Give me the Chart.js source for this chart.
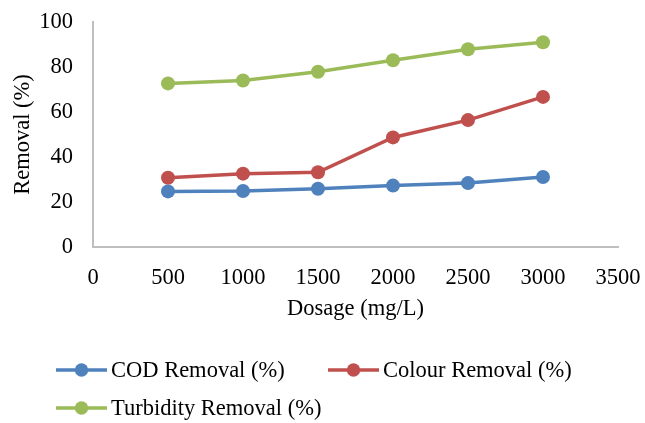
<!DOCTYPE html>
<html>
<head>
<meta charset="utf-8">
<script src="https://cdn.jsdelivr.net/npm/chart.js@4/dist/chart.umd.min.js"></script>
<style>
  html, body { margin: 0; padding: 0; background: #ffffff; }
  #wrap { width: 645px; height: 423px; position: relative; }
</style>
</head>
<body>
<div id="wrap"><canvas id="c" width="645" height="423"></canvas></div>
<script>
// Coagulant dosage (mg/L)
const dosages = [500, 1000, 1500, 2000, 2500, 3000];

// Removal efficiencies (%)
const codRemoval = [24.7, 24.9, 25.9, 27.3, 28.4, 31.1];
const colourRemoval = [30.8, 32.6, 33.2, 48.7, 56.4, 66.7];
const turbidityRemoval = [72.7, 74.0, 77.9, 83.0, 87.9, 91.0];

const seriesNames = ['COD Removal (%)', 'Colour Removal (%)', 'Turbidity Removal (%)'];
const seriesColors = ['#4F81BD', '#C0504D', '#9BBB59'];

const xTicks = [0, 500, 1000, 1500, 2000, 2500, 3000, 3500];
const yTicks = [0, 20, 40, 60, 80, 100];

const FONT = 'Liberation Serif, "Times New Roman", serif';
const FS = 22.5;

function toPoints(ys) {
  return dosages.map((x, i) => ({ x: x, y: ys[i] }));
}

function makeDataset(label, values, color) {
  return {
    label: label,
    data: toPoints(values),
    borderColor: color,
    backgroundColor: color,
    borderWidth: 3.5,
    pointRadius: 7,
    pointHoverRadius: 7,
    pointBorderWidth: 0,
    pointBackgroundColor: color,
    tension: 0
  };
}

// Legend laid out in rows that share a common left edge
const legendPlugin = {
  id: 'rowLegend',
  afterDraw(chart) {
    const ctx = chart.ctx;
    const items = [
      { i: 0, x: 56, y: 370 },
      { i: 1, x: 328, y: 370 },
      { i: 2, x: 56, y: 408 }
    ];
    ctx.save();
    ctx.font = FS + 'px ' + FONT;
    ctx.textBaseline = 'middle';
    ctx.textAlign = 'left';
    items.forEach(it => {
      const ds = chart.data.datasets[it.i];
      const color = ds.borderColor;
      ctx.strokeStyle = color;
      ctx.lineWidth = 3.3;
      ctx.beginPath();
      ctx.moveTo(it.x, it.y);
      ctx.lineTo(it.x + 51, it.y);
      ctx.stroke();
      ctx.fillStyle = color;
      ctx.beginPath();
      ctx.arc(it.x + 25.5, it.y, 6.7, 0, Math.PI * 2);
      ctx.fill();
      ctx.fillStyle = '#000000';
      ctx.fillText(ds.label, it.x + 55, it.y + 1);
    });
    ctx.restore();
  }
};

new Chart(document.getElementById('c'), {
  type: 'line',
  data: {
    datasets: [
      makeDataset(seriesNames[0], codRemoval, seriesColors[0]),
      makeDataset(seriesNames[1], colourRemoval, seriesColors[1]),
      makeDataset(seriesNames[2], turbidityRemoval, seriesColors[2])
    ]
  },
  options: {
    responsive: false,
    animation: false,
    devicePixelRatio: 1,
    layout: { padding: { top: 22, right: 27, bottom: 96, left: 0 } },
    plugins: {
      legend: { display: false },
      tooltip: { enabled: false }
    },
    scales: {
      x: {
        type: 'linear',
        min: xTicks[0],
        max: xTicks[xTicks.length - 1],
        afterBuildTicks(scale) { scale.ticks = xTicks.map(v => ({ value: v })); },
        afterFit(scale) {
          scale.height = 80;
          scale.paddingLeft = 0;
          scale.paddingRight = 0;
        },
        ticks: {
          color: '#000000',
          font: { family: FONT, size: FS },
          padding: 18,
          maxRotation: 0,
          autoSkip: false,
          callback: v => String(v)
        },
        grid: { drawOnChartArea: false, drawTicks: false },
        border: { display: true, color: '#BFBFBF', width: 2 },
        title: {
          display: true,
          text: 'Dosage (mg/L)',
          color: '#000000',
          font: { family: FONT, size: FS },
          padding: { top: 0, bottom: 4 }
        }
      },
      y: {
        type: 'linear',
        min: yTicks[0],
        max: yTicks[yTicks.length - 1],
        afterBuildTicks(scale) { scale.ticks = yTicks.map(v => ({ value: v })); },
        afterFit(scale) {
          scale.width = 93;
          scale.paddingTop = 0;
          scale.paddingBottom = 0;
        },
        ticks: {
          color: '#000000',
          font: { family: FONT, size: FS },
          padding: 20,
          callback: v => String(v)
        },
        grid: { drawOnChartArea: false, drawTicks: false },
        border: { display: true, color: '#BFBFBF', width: 2 },
        title: {
          display: true,
          text: 'Removal (%)',
          color: '#000000',
          font: { family: FONT, size: FS },
          padding: { top: 10, bottom: 0 }
        }
      }
    }
  },
  plugins: [legendPlugin]
});
</script>
</body>
</html>
